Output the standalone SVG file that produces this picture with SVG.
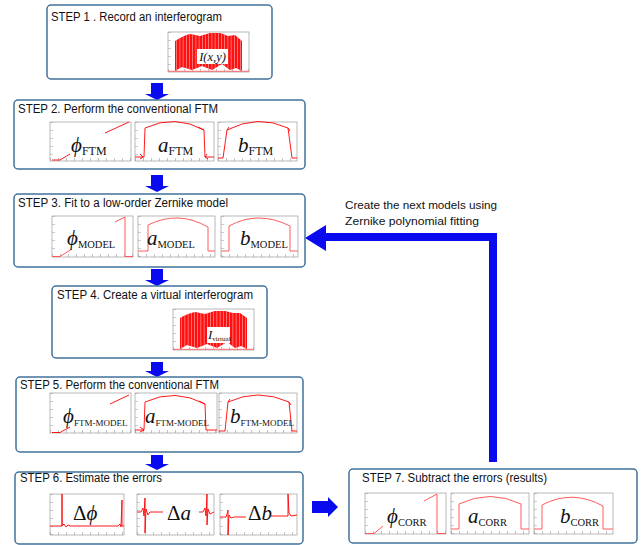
<svg xmlns="http://www.w3.org/2000/svg" width="643" height="545" viewBox="0 0 643 545">
<style>
.box{fill:#fff;stroke:#41719c;stroke-width:1.5}
.title{font-family:"Liberation Sans",Arial,sans-serif;font-size:12.5px;fill:#111}
.frame{fill:#fff;stroke:#8a8a8a;stroke-width:0.6}
.tk{stroke:#9a9a9a;stroke-width:3;stroke-dasharray:0.6 7.4;fill:none}
.red{fill:none;stroke:#f00;stroke-width:0.9}
.redl{fill:none;stroke:#ff5a5a;stroke-width:1}
.m{font-family:"Liberation Serif","Times New Roman","DejaVu Serif",serif;font-style:italic;font-size:21px;fill:#111}
.sub{font-style:normal}
.up{font-style:normal}
.arr{fill:#0a0aef}
.fb{fill:none;stroke:#0a0aef;stroke-width:8}
.note{font-family:"Liberation Sans",Arial,sans-serif;font-size:11px;fill:#111}
.fringe{fill:none;stroke:#ffb4b4;stroke-width:50;stroke-dasharray:0.6 2.6}
</style>
<defs>
<clipPath id="c1"><path d="M175 71 L175 41 C180 38 185 35 190 34 L200 36 L210 33 L220 33 L228 36 L235 35 L242 41 L242 71 L236 68 L230 70 L222 64 L212 70 L202 66 L192 70 L182 67 Z"/></clipPath>
<clipPath id="c4"><path d="M180 349 L180 318 C185 315 190 313 195 312 L205 314 L215 311 L225 311 L233 313 L240 313 L247 318 L247 349 L241 346 L235 348 L227 342 L217 348 L207 344 L197 348 L187 345 Z"/></clipPath>
</defs>

<g id="connectors">
<path class="arr" d="M151 83 H163 V94 H169 L157 100 L145 94 H151 Z"/>
<path class="arr" d="M151 175 H163 V186 H169 L157 192 L145 186 H151 Z"/>
<path class="arr" d="M151 269 H163 V280 H169 L157 286 L145 280 H151 Z"/>
<path class="arr" d="M151 362 H163 V371 H169 L157 377 L145 371 H151 Z"/>
<path class="arr" d="M151 455 H163 V464 H169 L157 470 L145 464 H151 Z"/>
<path class="arr" d="M312 501 H328 V497 L338 507 L328 517 V513 H312 Z"/>
<polyline class="fb" points="493,462 493,237 325,237"/>
<polygon class="arr" points="326,225 305,238 326,251"/>
<text class="note" x="345" y="209" textLength="152" lengthAdjust="spacingAndGlyphs">Create the next models using</text>
<text class="note" x="345" y="225" textLength="134" lengthAdjust="spacingAndGlyphs">Zernike polynomial fitting</text>
</g>

<g id="step1">
<rect class="box" x="47" y="5" width="225" height="74" rx="4"/>
<text class="title" x="51" y="21" textLength="171" lengthAdjust="spacingAndGlyphs">STEP 1 . Record an interferogram</text>
<rect class="frame" x="168" y="32" width="81" height="40"/>
<line class="tk" x1="169.5" y1="32" x2="169.5" y2="72"/>
<line class="tk" x1="168" y1="70.5" x2="249" y2="70.5"/>
<g clip-path="url(#c1)">
<rect x="170" y="30" width="80" height="45" fill="#ff1010"/>
<line class="fringe" x1="170" y1="52" x2="250" y2="52"/>
</g>
<line x1="168" y1="71.3" x2="249" y2="71.3" stroke="#ff6a6a" stroke-width="1"/>
<rect x="197" y="49" width="31" height="15" fill="#fff"/>
<text class="m" x="212.5" y="60.5" style="font-size:12.5px" text-anchor="middle">I(x,y)</text>
</g>

<g id="step2">
<rect class="box" x="14" y="100" width="291" height="69" rx="4"/>
<text class="title" x="18" y="113" textLength="200" lengthAdjust="spacingAndGlyphs">STEP 2. Perform the conventional FTM</text>
<rect class="frame" x="50" y="122" width="81" height="39"/>
<line class="tk" x1="51.5" y1="122" x2="51.5" y2="161"/>
<line class="tk" x1="50" y1="159.5" x2="131" y2="159.5"/>
<path class="red" d="M52 160 L60 160 L70 154 M105 133 L129 122"/>
<text class="m" x="71" y="152">ϕ<tspan class="sub" font-size="12" dy="3">FTM</tspan></text>
<rect class="frame" x="135" y="122" width="79" height="39"/>
<line class="tk" x1="136.5" y1="122" x2="136.5" y2="161"/>
<line class="tk" x1="135" y1="159.5" x2="214" y2="159.5"/>
<path class="red" d="M135 157 L144 157 L145 128 Q175 114 204 130 L205 157 L214 157 M140 154 L143 157 L140 159 M198 127 L204 130 M207 154 L205 157 L208 159"/>
<text class="m" x="158" y="152">a<tspan class="sub" font-size="12" dy="3">FTM</tspan></text>
<rect class="frame" x="218" y="122" width="79" height="39"/>
<line class="tk" x1="219.5" y1="122" x2="219.5" y2="161"/>
<line class="tk" x1="218" y1="159.5" x2="297" y2="159.5"/>
<path class="red" d="M218 158 L223 158 L227 130 Q258 114 288 128 L292 158 L297 158 M227 130 L229 127 M288 128 L290 131"/>
<text class="m" x="238" y="152">b<tspan class="sub" font-size="12" dy="3">FTM</tspan></text>
</g>

<g id="step3">
<rect class="box" x="14" y="194" width="291" height="73" rx="4"/>
<text class="title" x="18" y="207" textLength="210" lengthAdjust="spacingAndGlyphs">STEP 3. Fit to a low-order Zernike model</text>
<rect class="frame" x="52" y="216" width="81" height="41"/>
<line class="tk" x1="53.5" y1="216" x2="53.5" y2="257"/>
<line class="tk" x1="52" y1="255.5" x2="133" y2="255.5"/>
<path class="redl" d="M52 256.5 L60 256.5 L72 249 M115 222 L125 217 L125 256.5 L133 256.5"/>
<text class="m" x="67" y="245">ϕ<tspan class="sub" font-size="10.5" dy="3">MODEL</tspan></text>
<rect class="frame" x="138" y="216" width="77" height="41"/>
<line class="tk" x1="139.5" y1="216" x2="139.5" y2="257"/>
<line class="tk" x1="138" y1="255.5" x2="215" y2="255.5"/>
<path class="redl" d="M138 251 L148 251 L148 225 Q178 210 208 227 L208 251 L215 251"/>
<text class="m" x="147" y="245">a<tspan class="sub" font-size="10.5" dy="3">MODEL</tspan></text>
<rect class="frame" x="221" y="216" width="77" height="41"/>
<line class="tk" x1="222.5" y1="216" x2="222.5" y2="257"/>
<line class="tk" x1="221" y1="255.5" x2="298" y2="255.5"/>
<path class="redl" d="M221 251 L229 251 L229 226 Q258 210 290 226 L290 251 L298 251"/>
<text class="m" x="240" y="245">b<tspan class="sub" font-size="10.5" dy="3">MODEL</tspan></text>
</g>

<g id="step4">
<rect class="box" x="52" y="286" width="215" height="72" rx="4"/>
<text class="title" x="57" y="299" textLength="196" lengthAdjust="spacingAndGlyphs">STEP 4. Create a virtual interferogram</text>
<rect class="frame" x="173" y="309" width="81" height="41"/>
<line class="tk" x1="174.5" y1="309" x2="174.5" y2="350"/>
<line class="tk" x1="173" y1="348.5" x2="254" y2="348.5"/>
<g clip-path="url(#c4)">
<rect x="175" y="305" width="80" height="47" fill="#ff1010"/>
<line class="fringe" x1="175" y1="330" x2="255" y2="330"/>
</g>
<line x1="173" y1="349.3" x2="254" y2="349.3" stroke="#ff6a6a" stroke-width="1"/>
<rect x="207" y="327" width="23" height="16" fill="#fff"/>
<text class="m" x="208" y="338.5" style="font-size:13px">I<tspan class="sub" style="font-size:7px" dy="2">virtual</tspan></text>
</g>

<g id="step5">
<rect class="box" x="16" y="377" width="287" height="75" rx="4"/>
<text class="title" x="20" y="389" textLength="199" lengthAdjust="spacingAndGlyphs">STEP 5. Perform the conventional FTM</text>
<rect class="frame" x="50" y="393" width="81" height="40"/>
<line class="tk" x1="51.5" y1="393" x2="51.5" y2="433"/>
<line class="tk" x1="50" y1="431.5" x2="131" y2="431.5"/>
<path class="red" d="M52 432.5 L60 432.5 L70 427 M110 404 L129 395"/>
<text class="m" x="63" y="423">ϕ<tspan class="sub" font-size="9" dy="3">FTM-MODEL</tspan></text>
<rect class="frame" x="135" y="393" width="82" height="40"/>
<line class="tk" x1="136.5" y1="393" x2="136.5" y2="433"/>
<line class="tk" x1="135" y1="431.5" x2="217" y2="431.5"/>
<path class="red" d="M135 430 L144 430 L145 402 Q175 388 205 404 L206 430 L217 430 M140 427 L144 430 L140 432 M199 401 L205 404"/>
<text class="m" x="145" y="423">a<tspan class="sub" font-size="9" dy="3">FTM-MODEL</tspan></text>
<rect class="frame" x="219" y="393" width="78" height="40"/>
<line class="tk" x1="220.5" y1="393" x2="220.5" y2="433"/>
<line class="tk" x1="219" y1="431.5" x2="297" y2="431.5"/>
<path class="red" d="M219 431 L225 431 L228 402 Q258 388 289 402 L292 431 L297 431 M228 402 L230 399 M289 402 L291 405"/>
<text class="m" x="230" y="423">b<tspan class="sub" font-size="9" dy="3">FTM-MODEL</tspan></text>
</g>

<g id="step6">
<rect class="box" x="15" y="472" width="288" height="72" rx="4"/>
<text class="title" x="20" y="482" textLength="142" lengthAdjust="spacingAndGlyphs">STEP 6. Estimate the errors</text>
<rect class="frame" x="50" y="494" width="74" height="41"/>
<line class="tk" x1="51.5" y1="494" x2="51.5" y2="535"/>
<line class="tk" x1="50" y1="533.5" x2="124" y2="533.5"/>
<path class="red" d="M50 526 L62 526 L62 494 L62 526 L64 524 L66 527 L68 525 L70 526 L118 526 L120 524 L121 527 L122 500 L122 526 L124 526"/>
<text class="m" x="73" y="520"><tspan class="up">Δ</tspan>ϕ</text>
<rect class="frame" x="137" y="494" width="77" height="41"/>
<line class="tk" x1="138.5" y1="494" x2="138.5" y2="535"/>
<line class="tk" x1="137" y1="533.5" x2="214" y2="533.5"/>
<path class="red" d="M137 512 L141 512 L143 508 L144 516 L145 498 L145 533 L146 509 L148 515 L150 512 L163 512 M199 512 L203 512 L205 508 L206 516 L207 494 L207 525 L208 509 L210 514 L214 512"/>
<text class="m" x="167" y="520"><tspan class="up">Δ</tspan>a</text>
<rect class="frame" x="220" y="494" width="77" height="41"/>
<line class="tk" x1="221.5" y1="494" x2="221.5" y2="535"/>
<line class="tk" x1="220" y1="533.5" x2="297" y2="533.5"/>
<path class="red" d="M220 517 L226 517 L227 514 L228 510 L228 535 L229 515 L231 518 L234 517 L246 517 M271 516 L288 516 L288 494 L289 513 L291 516 L297 515"/>
<text class="m" x="248" y="520"><tspan class="up">Δ</tspan>b</text>
</g>

<g id="step7">
<rect class="box" x="349" y="469" width="288" height="74" rx="4"/>
<text class="title" x="362" y="482" textLength="185" lengthAdjust="spacingAndGlyphs">STEP 7. Subtract the errors (results)</text>
<rect class="frame" x="365" y="493" width="81" height="41"/>
<line class="tk" x1="366.5" y1="493" x2="366.5" y2="534"/>
<line class="tk" x1="365" y1="532.5" x2="446" y2="532.5"/>
<path class="redl" d="M365 533.5 L374 533.5 L383 526 M424 501 L437 494 L437 533.5 L446 533.5"/>
<text class="m" x="387" y="523">ϕ<tspan class="sub" font-size="10.5" dy="3">CORR</tspan></text>
<rect class="frame" x="451" y="493" width="78" height="41"/>
<line class="tk" x1="452.5" y1="493" x2="452.5" y2="534"/>
<line class="tk" x1="451" y1="532.5" x2="529" y2="532.5"/>
<path class="redl" d="M451 529 L459 529 L459 504 Q490 489 521 504 L521 529 L529 529"/>
<text class="m" x="468" y="523">a<tspan class="sub" font-size="10.5" dy="3">CORR</tspan></text>
<rect class="frame" x="534" y="493" width="79" height="41"/>
<line class="tk" x1="535.5" y1="493" x2="535.5" y2="534"/>
<line class="tk" x1="534" y1="532.5" x2="613" y2="532.5"/>
<path class="redl" d="M534 529 L542 529 L542 505 Q572 489 603 506 L603 529 L613 529"/>
<text class="m" x="560" y="523">b<tspan class="sub" font-size="10.5" dy="3">CORR</tspan></text>
</g>
</svg>
